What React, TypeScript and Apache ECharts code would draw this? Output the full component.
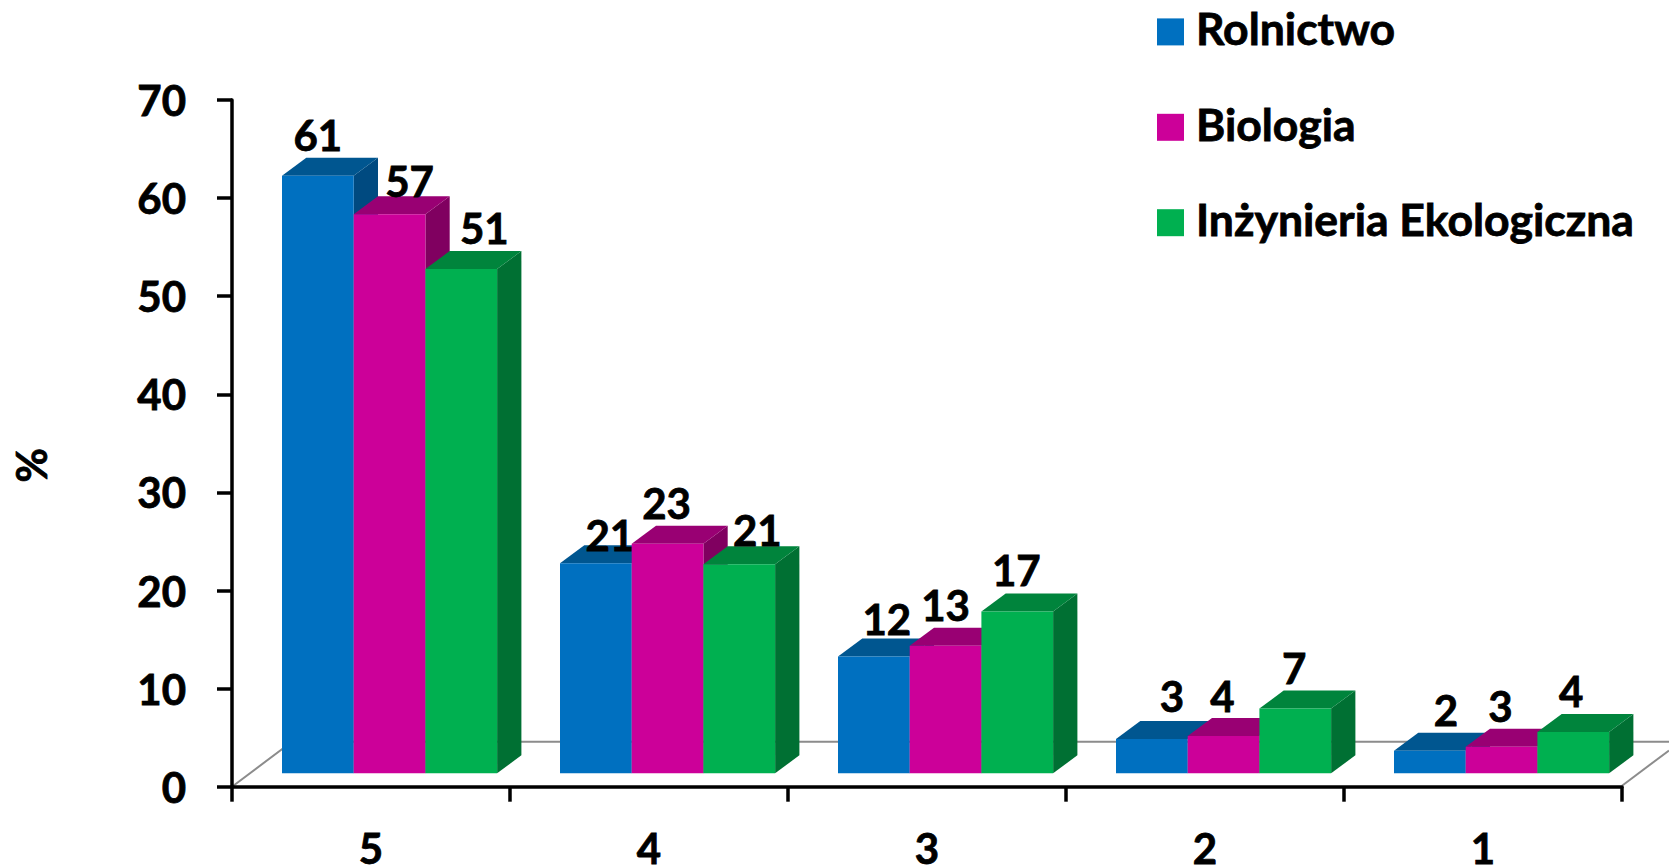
import React, { useEffect, useRef } from "react";
import * as echarts from "echarts";

const categories = ["5", "4", "3", "2", "1"];
const seriesNames = ["Rolnictwo", "Biologia", "Inżynieria Ekologiczna"];
// bar heights as drawn
const rolnictwo = [60.9, 21.4, 11.9, 3.5, 2.3];
const biologia = [57, 23.4, 13, 3.8, 2.7];
const inzynieria = [51.4, 21.3, 16.5, 6.6, 4.2];
// printed data labels
const rolnictwoLabels = ["61", "21", "12", "3", "2"];
const biologiaLabels = ["57", "23", "13", "4", "3"];
const inzynieriaLabels = ["51", "21", "17", "7", "4"];
const yTicks = [0, 10, 20, 30, 40, 50, 60, 70];

const values = [rolnictwo, biologia, inzynieria];
const labels = [rolnictwoLabels, biologiaLabels, inzynieriaLabels];
const frontColors = ["#0070C0", "#CC0099", "#00B050"];
const topColors = ["#005690", "#990073", "#00843C"];
const sideColors = ["#004A80", "#800060", "#007033"];

// hand placed label offsets from the top-centre of each bar's front face
const labelDx = [
  [0, 14, 13, 20, 16],
  [20, -1, 0, -1, -1],
  [23, 18, -1, -1, -2],
];
const labelDy = [
  [-41, -28, -38, -43, -41],
  [-33, -41, -41, -40, -41],
  [-41, -34, -41, -41, -41],
];

const FONT = "Lato";
const DIGIT_SIZE = 42;
const LEGEND_SIZE = 44.5;
const W = 1669;
const H = 866;
const GRID = { left: 232, right: 47, top: 100, height: 686.7 };
const BAR_W = 71.7;
const BAR_START = 50;
const BASE_SHIFT = 13.4;
const DEPTH_X = 24.3;
const DEPTH_Y = 18;
const FLOOR_X = 60;
const FLOOR_Y = 45;

const boldText = {
  fontFamily: FONT,
  fontWeight: "bold",
  fontSize: DIGIT_SIZE,
  color: "#000",
  textBorderColor: "#000",
  textBorderWidth: 0.8,
};

export default function App() {
  const ref = useRef<HTMLDivElement>(null);
  useEffect(() => {
    const chart = echarts.init(ref.current!, undefined, { renderer: "svg", width: W, height: H });
    const x0 = GRID.left;
    const y0 = GRID.top + GRID.height;
    const x1 = W - GRID.right;
    const floor = { stroke: "#8C8C8C", lineWidth: 2, fill: "none" };
    chart.setOption({
      animation: false,
      backgroundColor: "#fff",
      textStyle: { fontFamily: FONT },
      grid: {
        left: GRID.left,
        right: GRID.right,
        top: GRID.top,
        height: GRID.height,
        containLabel: false,
        outerBoundsMode: "none",
      },
      legend: {
        orient: "vertical",
        left: 1157,
        top: 5,
        padding: 0,
        itemWidth: 27,
        itemHeight: 27,
        itemGap: 42,
        icon: "rect",
        data: seriesNames,
        selectedMode: false,
        formatter: "{t|{name}}",
        textStyle: {
          ...boldText,
          fontSize: LEGEND_SIZE,
          rich: {
            t: { ...boldText, fontSize: LEGEND_SIZE, lineHeight: 47, padding: [0, 0, 8, 7] },
          },
        },
      },
      graphic: [
        {
          type: "polyline",
          z: 0,
          silent: true,
          shape: { points: [[x0, y0], [x0 + FLOOR_X, y0 - FLOOR_Y], [W, y0 - FLOOR_Y]] },
          style: floor,
        },
        {
          type: "polyline",
          z: 0,
          silent: true,
          shape: { points: [[x1, y0 - 1], [W, y0 - 1 - ((W - x1) * FLOOR_Y) / FLOOR_X]] },
          style: floor,
        },
      ],
      xAxis: {
        type: "category",
        data: categories,
        boundaryGap: true,
        axisLine: { lineStyle: { color: "#000", width: 3.5 } },
        axisTick: { show: true, length: 15, lineStyle: { color: "#000", width: 3.5 } },
        axisLabel: { ...boldText, lineHeight: 34, margin: 44.5 },
        splitLine: { show: false },
      },
      yAxis: {
        type: "value",
        min: yTicks[0],
        max: yTicks[yTicks.length - 1],
        interval: 10,
        name: "%",
        nameLocation: "middle",
        nameRotate: 90,
        nameGap: 180,
        nameTextStyle: { ...boldText, padding: [0, 44, 0, 0] },
        axisLine: { show: true, lineStyle: { color: "#000", width: 3.5 } },
        axisTick: { show: true, length: 15, lineStyle: { color: "#000", width: 3.5 } },
        axisLabel: { ...boldText, margin: 46, padding: [2, 0, 0, 0] },
        splitLine: { show: false },
      },
      series: seriesNames.map((name, s) => ({
        name,
        type: "custom",
        z: 3 + s,
        clip: false,
        itemStyle: { color: frontColors[s] },
        data: categories.map((_, i) => [i, values[s][i]]),
        encode: { x: 0, y: 1 },
        renderItem: (_p: any, api: any) => {
          const i = api.value(0);
          const band = api.size([1, 0])[0];
          const top = api.coord([i, api.value(1)]);
          const base = api.coord([i, 0]);
          const left = top[0] - band / 2 + BAR_START + s * BAR_W;
          const right = left + BAR_W;
          const ty = top[1] - BASE_SHIFT;
          const by = base[1] - BASE_SHIFT;
          return {
            type: "group",
            children: [
              {
                type: "polygon",
                shape: { points: [[right, ty], [right + DEPTH_X, ty - DEPTH_Y], [right + DEPTH_X, by - DEPTH_Y], [right, by]] },
                style: { fill: sideColors[s] },
              },
              {
                type: "polygon",
                shape: { points: [[left, ty], [left + DEPTH_X, ty - DEPTH_Y], [right + DEPTH_X, ty - DEPTH_Y], [right, ty]] },
                style: { fill: topColors[s] },
              },
              {
                type: "rect",
                shape: { x: left, y: ty, width: BAR_W, height: by - ty },
                style: { fill: frontColors[s] },
              },
              {
                type: "text",
                z2: 100,
                x: left + BAR_W / 2 + labelDx[s][i],
                y: ty + labelDy[s][i],
                style: {
                  text: labels[s][i],
                  fontFamily: FONT,
                  fontWeight: "bold",
                  fontSize: DIGIT_SIZE,
                  fill: "#000",
                  stroke: "#000",
                  lineWidth: 0.8,
                  align: "center",
                  verticalAlign: "middle",
                },
              },
            ],
          };
        },
      })),
    });
    return () => chart.dispose();
  }, []);
  return <div ref={ref} style={{ position: "absolute", left: 0, top: 0, width: W, height: H }} />;
}
